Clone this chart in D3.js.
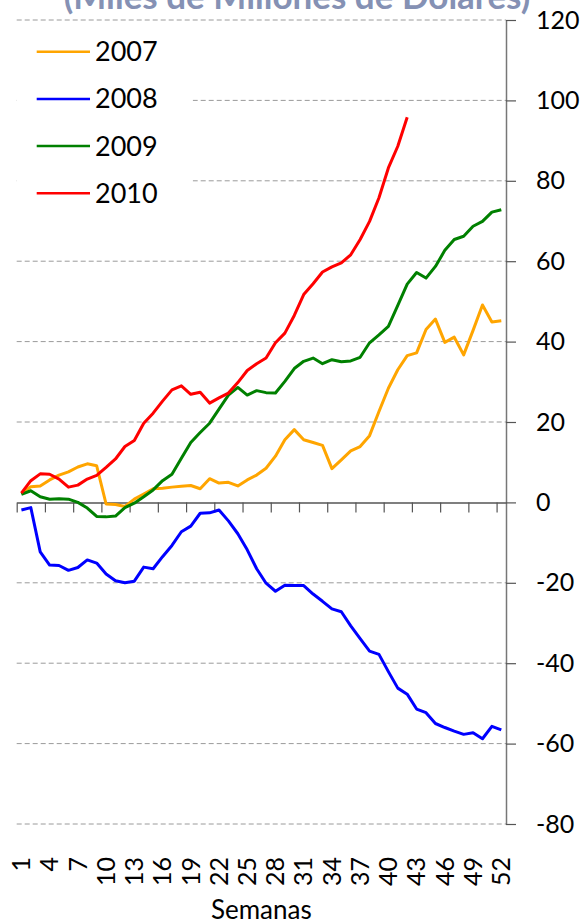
<!DOCTYPE html>
<html>
<head>
<meta charset="utf-8">
<script src="https://cdn.jsdelivr.net/npm/d3@7"></script>
<style>
  html, body { margin: 0; padding: 0; background: #fff; }
  svg { display: block; }
  text { font-family: Lato, "Open Sans", sans-serif; }
</style>
</head>
<body>
<svg id="chart" width="585" height="924"></svg>
<script>
// ---- data ----
const weeks = [1,2,3,4,5,6,7,8,9,10,11,12,13,14,15,16,17,18,19,20,21,22,23,24,25,26,
               27,28,29,30,31,32,33,34,35,36,37,38,39,40,41,42,43,44,45,46,47,48,49,50,51,52];
const weekTickLabels = [1,4,7,10,13,16,19,22,25,28,31,34,37,40,43,46,49,52];
const yTicks = [-80,-60,-40,-20,0,20,40,60,80,100,120];
const seriesNames = ["2007","2008","2009","2010"];
const seriesColors = ["#FFA500","#0000FF","#008000","#FF0000"];

const v2007 = [2.3,3.9,4.1,5.6,6.8,7.6,8.8,9.6,9.1,-0.4,-0.5,-1.0,0.8,2.1,3.4,3.5,3.8,4.0,4.2,3.4,
               5.9,4.8,5.0,4.1,5.6,6.8,8.5,11.5,15.6,18.1,15.6,14.9,14.2,8.4,10.6,12.8,13.9,16.6,22.6,28.4,
               33.0,36.5,37.2,43.0,45.6,39.8,41.1,36.7,42.8,49.1,44.9,45.2];
const v2008 = [-1.9,-1.3,-12.3,-15.6,-15.7,-16.9,-16.2,-14.3,-15.1,-17.8,-19.5,-20.0,-19.6,-16.1,-16.5,-13.5,
               -10.7,-7.3,-5.9,-2.7,-2.6,-1.9,-4.6,-7.8,-11.8,-16.5,-20.1,-22.1,-20.6,-20.7,-20.7,-22.8,
               -24.6,-26.5,-27.2,-30.7,-33.9,-37.0,-37.8,-42.1,-46.2,-47.7,-51.4,-52.3,-55.0,-56.0,-56.9,
               -57.7,-57.3,-58.8,-55.7,-56.6];
const v2009 = [2.0,2.9,1.4,0.8,0.9,0.8,0.0,-1.4,-3.5,-3.6,-3.4,-1.3,-0.2,1.4,3.1,5.4,7.0,11.0,14.9,17.4,
               19.7,23.2,26.7,28.6,26.7,27.8,27.3,27.2,30.1,33.3,35.1,35.9,34.5,35.5,35.0,35.2,36.1,39.7,
               41.7,43.8,49.0,54.3,57.2,55.8,58.7,62.7,65.4,66.2,68.7,69.9,72.2,72.8];
const v2010 = [2.3,5.4,7.1,7.0,5.8,3.8,4.3,5.8,6.7,8.7,10.8,13.9,15.4,19.7,22.2,25.2,28.0,29.0,26.9,27.4,
               24.7,26.0,27.2,29.8,32.8,34.5,35.9,39.7,42.1,46.5,51.7,54.4,57.3,58.6,59.6,61.6,65.4,69.9,
               75.8,83.2,88.6,95.8];
const seriesValues = [v2007, v2008, v2009, v2010];

(function () {
// ---- layout ----
const plotL = 16.7, plotR = 506, plotT = 20, plotB = 824;

const svg = d3.select("#chart");

const x = d3.scaleBand().domain(weeks).range([plotL, plotR]).padding(0);
const xEdge = d3.scaleLinear().domain([0, weeks.length]).range([plotL, plotR]);
const y = d3.scaleLinear().domain([-80, 120]).range([plotB, plotT]);

// title (cut off at top in the original)
svg.append("text")
  .attr("x", 297).attr("y", 9)
  .attr("text-anchor", "middle")
  .attr("font-weight", "bold")
  .attr("font-size", 35)
  .attr("fill", "#8591B4")
  .text("(Miles de Millones de Dólares)");

// gridlines
svg.append("g").selectAll("line")
  .data(yTicks.filter(d => d !== 0))
  .join("line")
  .attr("x1", plotL).attr("x2", plotR)
  .attr("y1", d => y(d)).attr("y2", d => y(d))
  .attr("stroke", "#9a9a9a").attr("stroke-width", 1)
  .attr("stroke-dasharray", "5,3");

// legend background (covers gridlines)
svg.append("rect")
  .attr("x", plotL).attr("y", 28).attr("width", 176).attr("height", 190)
  .attr("fill", "#fff");

// right y axis
const yAxis = svg.append("g")
  .attr("transform", `translate(${plotR},0)`)
  .call(d3.axisRight(y).tickValues(yTicks).tickSize(10).tickSizeOuter(0).tickPadding(20)
        .tickFormat(d => String(d)));
yAxis.select(".domain").attr("stroke", "#777").attr("stroke-width", 1.5);
yAxis.selectAll(".tick line").attr("stroke", "#555").attr("stroke-width", 1.2);
yAxis.selectAll(".tick text")
  .attr("font-family", "Lato, sans-serif").attr("font-size", 25).attr("fill", "#000");

// x axis at zero
const xAxis = svg.append("g")
  .attr("transform", `translate(0,${y(0)})`)
  .call(d3.axisBottom(xEdge).tickValues(d3.range(0, weeks.length, 3)).tickSize(10).tickSizeOuter(0).tickFormat(""));
xAxis.select(".domain").attr("stroke", "#555").attr("stroke-width", 1.5);
xAxis.selectAll(".tick line").attr("stroke", "#555").attr("stroke-width", 1.2);

// x tick labels (low position, rotated)
svg.append("g").selectAll("text")
  .data(weekTickLabels)
  .join("text")
  .attr("transform", d => `translate(${x(d) + x.bandwidth() / 2},857) rotate(-90)`)
  .attr("text-anchor", "end")
  .attr("dy", "0.35em")
  .attr("font-size", 25)
  .attr("fill", "#000")
  .text(d => d);

// x axis title
svg.append("text")
  .attr("x", (plotL + plotR) / 2).attr("y", 919)
  .attr("text-anchor", "middle")
  .attr("font-size", 26)
  .attr("fill", "#000")
  .text("Semanas");

// lines
const line = d3.line()
  .x((d, i) => x(weeks[i]) + x.bandwidth() / 2)
  .y(d => y(d));

svg.append("g").selectAll("path")
  .data(seriesValues)
  .join("path")
  .attr("d", d => line(d))
  .attr("fill", "none")
  .attr("stroke", (d, i) => seriesColors[i])
  .attr("stroke-width", 3)
  .attr("stroke-linejoin", "round");

// legend
const lg = svg.append("g").selectAll("g")
  .data(seriesNames)
  .join("g")
  .attr("transform", (d, i) => `translate(0,${51.7 + i * 47.2})`);
lg.append("line")
  .attr("x1", 36.7).attr("x2", 90).attr("y1", 0).attr("y2", 0)
  .attr("stroke", (d, i) => seriesColors[i]).attr("stroke-width", 2.5);
lg.append("text")
  .attr("x", 95).attr("y", 0).attr("dy", "0.35em")
  .attr("font-size", 27).attr("fill", "#000")
  .text(d => d);
})();
</script>
</body>
</html>
